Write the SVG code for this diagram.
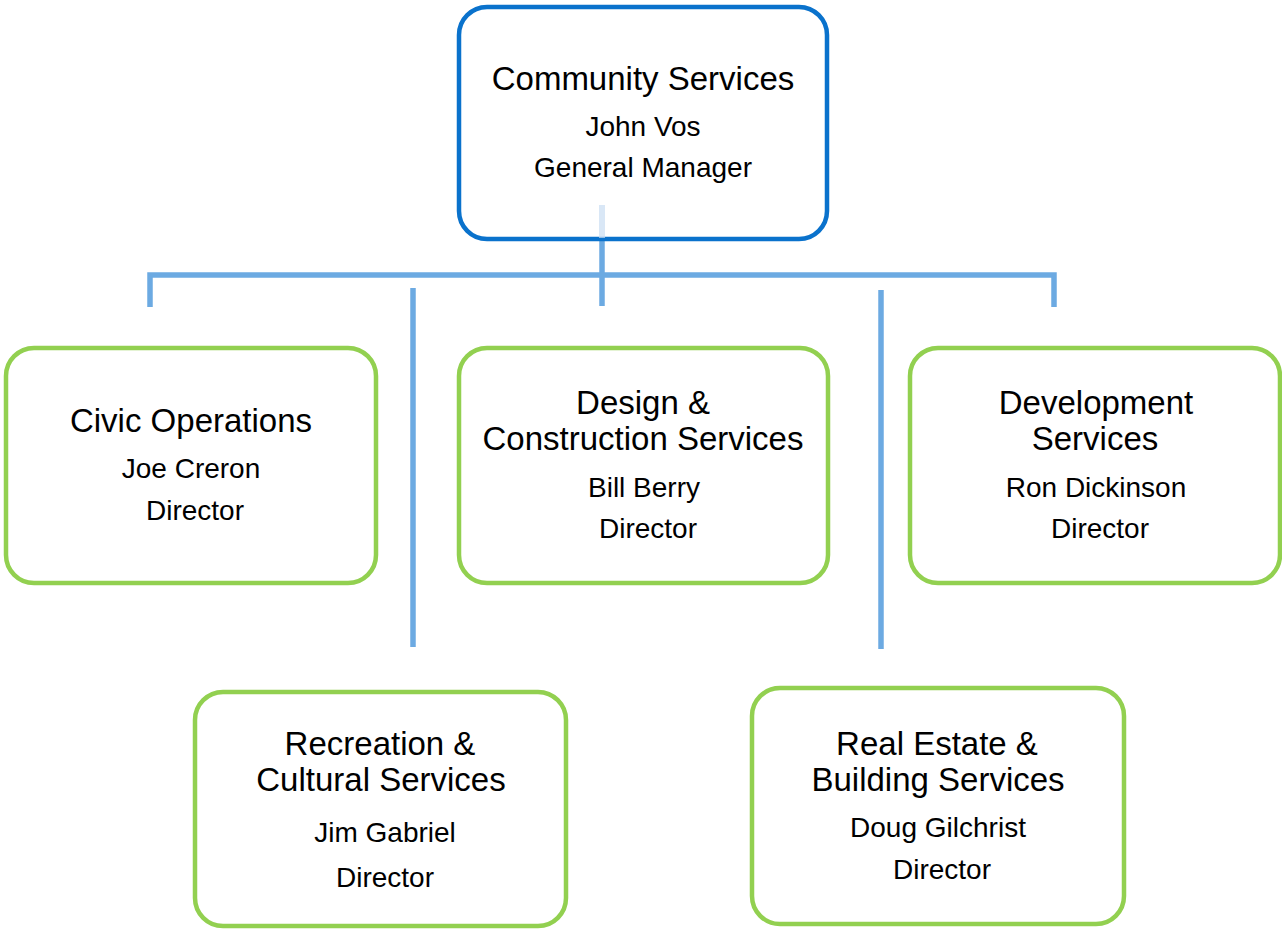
<svg xmlns="http://www.w3.org/2000/svg" width="1282" height="929" viewBox="0 0 1282 929">
<style>
.top{fill:#fff;stroke:#0A72CC;stroke-width:4.5}
.box{fill:#fff;stroke:#92D050;stroke-width:4.5}
.con{stroke:#6CAAE2;stroke-width:5.5;fill:none}
text{font-family:"Liberation Sans",Arial,sans-serif;fill:#000;text-anchor:middle}
.t{font-size:33px}
.s{font-size:28px}
</style>
<rect width="1282" height="929" fill="#fff"/>
<g id="connectors">
<line class="con" x1="602" y1="240" x2="602" y2="306"/>
<polyline class="con" points="150,307 150,275 1054,275 1054,307"/>
<line class="con" x1="413" y1="288" x2="413" y2="647"/>
<line class="con" x1="881" y1="290" x2="881" y2="649"/>
</g>
<g id="community-services">
<rect class="top" x="459" y="7" width="368" height="232" rx="28"/>
<rect x="599" y="205" width="6" height="33" fill="#c9ddf2" opacity="0.7"/>
<text class="t" x="643" y="90">Community Services</text>
<text class="s" x="643" y="136">John Vos</text>
<text class="s" x="643" y="177">General Manager</text>
</g>
<g id="civic-operations">
<rect class="box" x="6" y="348" width="370" height="235" rx="28"/>
<text class="t" x="191" y="432">Civic Operations</text>
<text class="s" x="191" y="478">Joe Creron</text>
<text class="s" x="195" y="520">Director</text>
</g>
<g id="design-construction">
<rect class="box" x="459" y="348" width="369" height="235" rx="28"/>
<text class="t" x="643" y="414">Design &amp;</text>
<text class="t" x="643" y="450">Construction Services</text>
<text class="s" x="644" y="497">Bill Berry</text>
<text class="s" x="648" y="538">Director</text>
</g>
<g id="development-services">
<rect class="box" x="910" y="348" width="370" height="235" rx="28"/>
<text class="t" x="1096" y="414">Development</text>
<text class="t" x="1095" y="450">Services</text>
<text class="s" x="1096" y="497">Ron Dickinson</text>
<text class="s" x="1100" y="538">Director</text>
</g>
<g id="recreation-cultural">
<rect class="box" x="195" y="692" width="371" height="234" rx="28"/>
<text class="t" x="380" y="755">Recreation &amp;</text>
<text class="t" x="381" y="791">Cultural Services</text>
<text class="s" x="385" y="842">Jim Gabriel</text>
<text class="s" x="385" y="887">Director</text>
</g>
<g id="real-estate-building">
<rect class="box" x="752" y="688" width="372" height="236" rx="28"/>
<text class="t" x="937" y="755">Real Estate &amp;</text>
<text class="t" x="938" y="791">Building Services</text>
<text class="s" x="938" y="837">Doug Gilchrist</text>
<text class="s" x="942" y="879">Director</text>
</g>
</svg>
